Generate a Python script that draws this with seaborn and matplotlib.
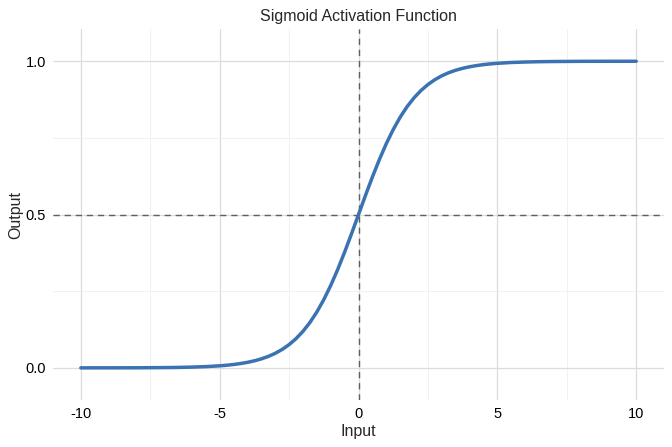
import numpy as np
import pandas as pd
import matplotlib.pyplot as plt
import seaborn as sns

# values (denser where it bends)
x_input = [-10.0, -9.5, -9.0, -8.5, -8.0, -7.5, -7.0, -6.5, -6.0, -5.5,
           -5.0, -4.75, -4.5, -4.25, -4.0, -3.75, -3.5, -3.25, -3.0, -2.75,
           -2.5, -2.25, -2.0, -1.75, -1.5, -1.25, -1.0, -0.75, -0.5, -0.25,
           0.0, 0.25, 0.5, 0.75, 1.0, 1.25, 1.5, 1.75, 2.0, 2.25,
           2.5, 2.75, 3.0, 3.25, 3.5, 3.75, 4.0, 4.25, 4.5, 4.75, 5.0,
           5.5, 6.0, 6.5, 7.0, 7.5, 8.0, 8.5, 9.0, 9.5, 10.0]
y_output = [0.0000, 0.0001, 0.0001, 0.0002, 0.0003, 0.0006, 0.0009, 0.0015, 0.0025, 0.0041,
            0.0067, 0.0086, 0.0110, 0.0141, 0.0180, 0.0230, 0.0293, 0.0373, 0.0474, 0.0601,
            0.0759, 0.0953, 0.1192, 0.1480, 0.1824, 0.2227, 0.2689, 0.3208, 0.3775, 0.4378,
            0.5000, 0.5622, 0.6225, 0.6792, 0.7311, 0.7773, 0.8176, 0.8520, 0.8808, 0.9047,
            0.9241, 0.9399, 0.9526, 0.9627, 0.9707, 0.9770, 0.9820, 0.9859, 0.9890, 0.9914, 0.9933,
            0.9959, 0.9975, 0.9985, 0.9991, 0.9994, 0.9997, 0.9998, 0.9999, 0.9999, 1.0000]
x_ticks = [-10, -5, 0, 5, 10]
x_minor = [-7.5, -2.5, 2.5, 7.5]
y_ticks = [0.0, 0.5, 1.0]
y_minor = [0.25, 0.75]

df = pd.DataFrame({'Input': x_input, 'Output': y_output})

sns.set_style('white')
plt.rcParams['font.family'] = ['Liberation Sans', 'DejaVu Sans']

fig, ax = plt.subplots(figsize=(6.72, 4.47), dpi=100)
fig.subplots_adjust(left=0.079, right=0.988, top=0.935, bottom=0.105)

# gridlines like ggplot's theme_minimal
ax.set_xticks(x_ticks)
ax.set_xticks(x_minor, minor=True)
ax.set_yticks(y_ticks)
ax.set_yticks(y_minor, minor=True)
ax.grid(which='major', color='#dcdcdc', linewidth=0.9)
ax.grid(which='minor', color='#efefef', linewidth=0.6)
ax.set_axisbelow(True)

ax.axhline(0.5, color='#5f5f5f', linestyle=(0, (4.5, 3.5)), linewidth=1.0, zorder=2)
ax.axvline(0, color='#5f5f5f', linestyle=(0, (4.5, 3.5)), linewidth=1.0, zorder=2)

sns.lineplot(data=df, x='Input', y='Output', ax=ax, color='#3b72b2', linewidth=2.5,
             zorder=3, solid_joinstyle='round')

ax.set_xlim(-11, 11)
ax.set_ylim(-0.105, 1.105)
ax.set_xticklabels([str(t) for t in x_ticks])
ax.set_yticklabels(['0.0', '0.5', '1.0'])

for s in ax.spines.values():
    s.set_visible(False)
ax.tick_params(which='both', length=0)
ax.tick_params(axis='x', labelsize=10.5, pad=5, colors='black')
ax.tick_params(axis='y', labelsize=10.5, pad=5, colors='black')

ax.set_xlabel('Input', fontsize=11.5, labelpad=2)
ax.set_ylabel('Output', fontsize=11.5, labelpad=2)
ax.set_title('Sigmoid Activation Function', fontsize=11.5, pad=6)

fig.savefig('out.png', dpi=100)
